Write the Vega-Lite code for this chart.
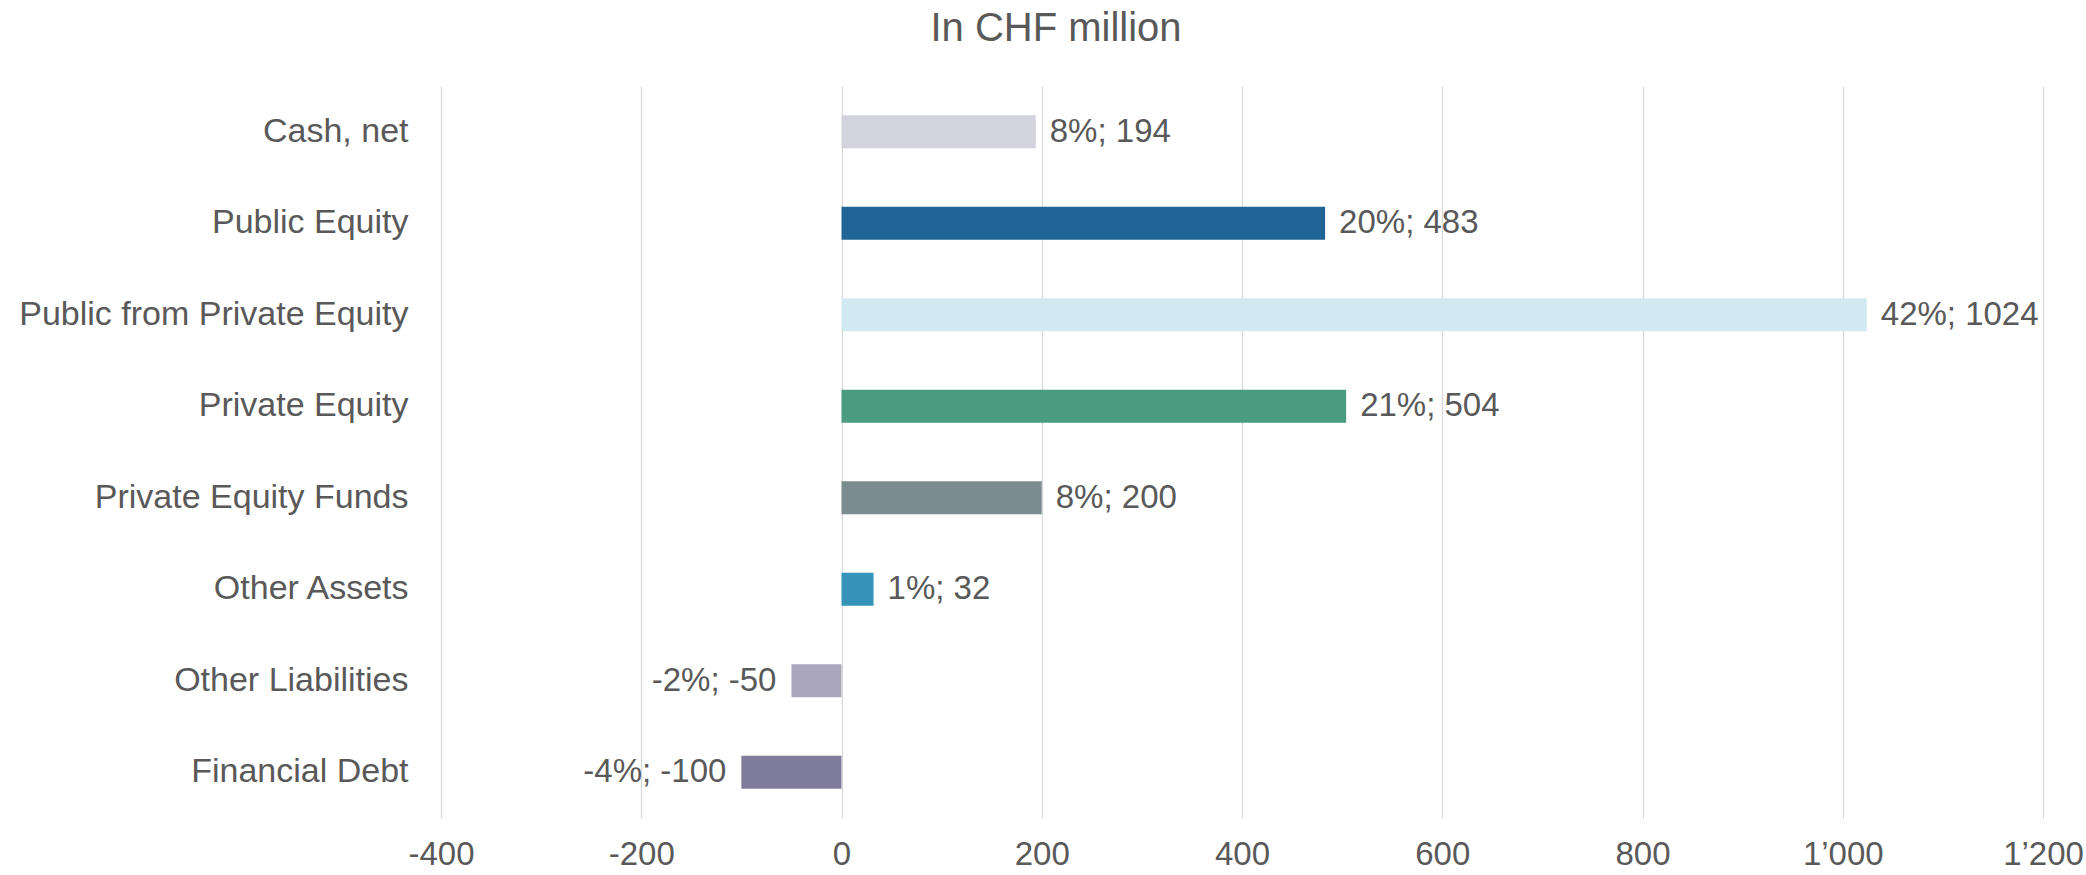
{
  "$schema": "https://vega.github.io/schema/vega-lite/v6.json",
  "width": 1602,
  "height": 732,
  "autosize": {"type": "none"},
  "padding": {"left": 441, "top": 86, "right": 43, "bottom": 57},
  "background": "white",
  "title": {
    "text": "In CHF million",
    "fontSize": 40,
    "font": "Liberation Sans",
    "fontWeight": "normal",
    "color": "#595959",
    "anchor": "middle",
    "frame": "group",
    "dx": -186,
    "baseline": "alphabetic",
    "offset": 5
  },
  "config": {
    "view": {"stroke": null},
    "font": "Liberation Sans"
  },
  "data": {
    "values": [
      {"category": "Cash, net", "value": 194, "label": "8%; 194", "color": "#d3d3df"},
      {"category": "Public Equity", "value": 483, "label": "20%; 483", "color": "#1f6595"},
      {"category": "Public from Private Equity", "value": 1024, "label": "42%; 1024", "color": "#d3e9f1"},
      {"category": "Private Equity", "value": 504, "label": "21%; 504", "color": "#4a9c80"},
      {"category": "Private Equity Funds", "value": 200, "label": "8%; 200", "color": "#7a8c8e"},
      {"category": "Other Assets", "value": 32, "label": "1%; 32", "color": "#3593ba"},
      {"category": "Other Liabilities", "value": -50, "label": "-2%; -50", "color": "#aaa7bd"},
      {"category": "Financial Debt", "value": -100, "label": "-4%; -100", "color": "#7f7b9b"}
    ]
  },
  "encoding": {
    "y": {
      "field": "category",
      "type": "nominal",
      "sort": null,
      "scale": {"paddingInner": 0.64, "paddingOuter": 0.32},
      "axis": {
        "title": null,
        "ticks": false,
        "domain": false,
        "grid": false,
        "labelFontSize": 34,
        "labelColor": "#595959",
        "labelPadding": 33,
        "labelLimit": 0,
        "labelFont": "Liberation Sans"
      }
    },
    "x": {
      "field": "value",
      "type": "quantitative",
      "scale": {"domain": [-400, 1200], "nice": false, "zero": true},
      "axis": {
        "title": null,
        "values": [-400, -200, 0, 200, 400, 600, 800, 1000, 1200],
        "labelExpr": "datum.value >= 1000 ? floor(datum.value / 1000) + '’' + substring(toString(datum.value), 1) : toString(datum.value)",
        "ticks": false,
        "domain": false,
        "grid": true,
        "gridColor": "#d9d9d9",
        "gridWidth": 1.3,
        "labelFontSize": 33,
        "labelColor": "#595959",
        "labelPadding": 20,
        "labelFlush": false,
        "labelOverlap": false,
        "labelFont": "Liberation Sans"
      }
    }
  },
  "layer": [
    {
      "mark": {"type": "bar"},
      "encoding": {
        "color": {"field": "color", "type": "nominal", "scale": null, "legend": null}
      }
    },
    {
      "transform": [{"filter": "datum.value >= 0"}],
      "mark": {"type": "text", "align": "left", "baseline": "middle", "dx": 14, "fontSize": 33, "color": "#595959", "font": "Liberation Sans"},
      "encoding": {"text": {"field": "label"}}
    },
    {
      "transform": [{"filter": "datum.value < 0"}],
      "mark": {"type": "text", "align": "right", "baseline": "middle", "dx": -15, "fontSize": 33, "color": "#595959", "font": "Liberation Sans"},
      "encoding": {"text": {"field": "label"}}
    }
  ]
}
